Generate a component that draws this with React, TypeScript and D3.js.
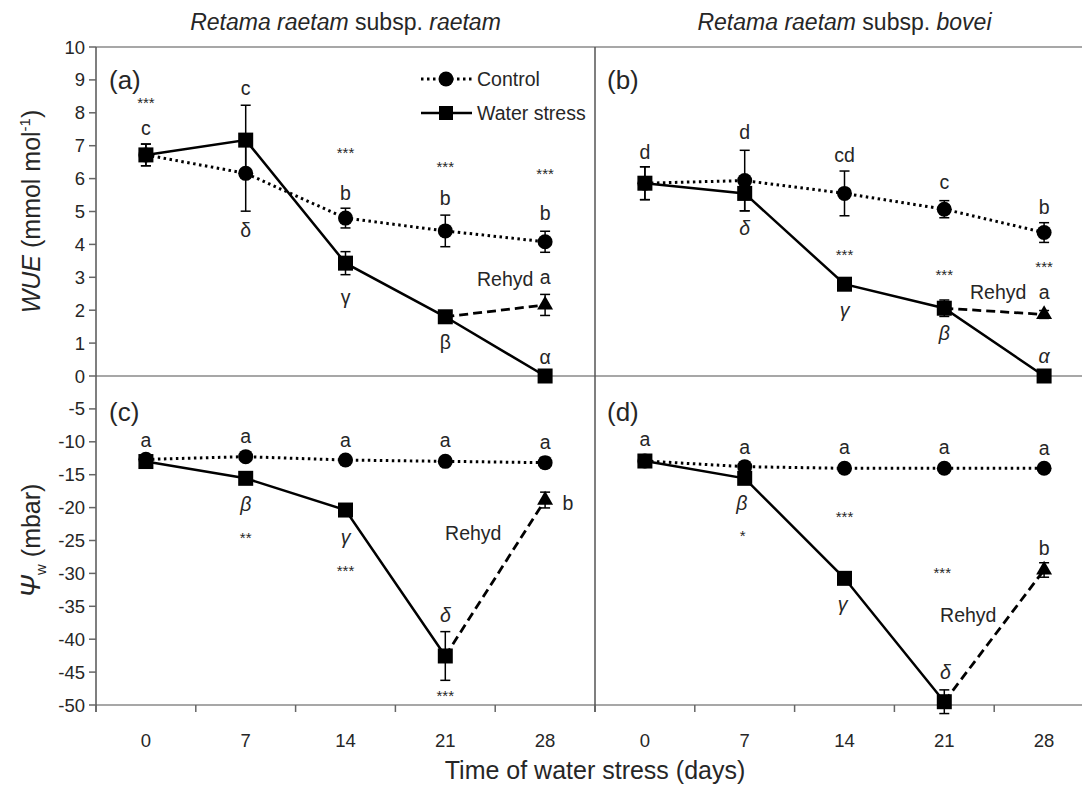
import React from "react";
import * as d3 from "d3";

// ---------- data ----------
const days = ["0", "7", "14", "21", "28"];

// WUE (mmol mol-1), subsp. raetam
const wueRaetamControl = [6.72, 6.16, 4.8, 4.41, 4.08];
const wueRaetamControlErr = [0.33, 1.15, 0.3, 0.48, 0.32];
const wueRaetamStress = [6.72, 7.17, 3.43, 1.8, 0];
const wueRaetamStressErr = [0.33, 1.06, 0.35, 0.1, 0];
const wueRaetamRehyd = [1.8, 2.16]; // day 21 -> day 28
const wueRaetamRehydErr = 0.32;

// WUE, subsp. bovei
const wueBoveiControl = [5.86, 5.94, 5.55, 5.07, 4.36];
const wueBoveiControlErr = [0.5, 0.92, 0.68, 0.26, 0.3];
const wueBoveiStress = [5.86, 5.55, 2.79, 2.06, 0];
const wueBoveiStressErr = [0.5, 0.53, 0.1, 0.25, 0];
const wueBoveiRehyd = [2.06, 1.87];
const wueBoveiRehydErr = 0.12;

// Psi_w (mbar), subsp. raetam
const psiRaetamControl = [-12.67, -12.26, -12.77, -12.97, -13.17];
const psiRaetamControlErr = [0.4, 0.6, 0.4, 0.4, 0.8];
const psiRaetamStress = [-13.0, -15.55, -20.37, -42.55, null];
const psiRaetamStressErr = [0.5, 0.8, 0.6, 3.7, 0];
const psiRaetamRehyd = [-42.55, -18.85];
const psiRaetamRehydErr = 1.2;

// Psi_w (mbar), subsp. bovei
const psiBoveiControl = [-12.92, -13.78, -14.03, -14.03, -14.03];
const psiBoveiControlErr = [0.3, 0.5, 0.3, 0.3, 0.3];
const psiBoveiStress = [-12.92, -15.55, -30.75, -49.5, null];
const psiBoveiStressErr = [0.3, 0.8, 0.4, 1.8, 0];
const psiBoveiRehyd = [-49.5, -29.48];
const psiBoveiRehydErr = 1.1;

const wueTicks = [0, 1, 2, 3, 4, 5, 6, 7, 8, 9, 10];
const psiTicks = [-5, -10, -15, -20, -25, -30, -35, -40, -45, -50];

// annotations: [dayIndex, value, text, kind]  kind: l=letter, s=stars, g=greek, gi=italic greek, r=rehyd
type Ann = [number, number, string, string];
const annA: Ann[] = [
  [0, 8.3, "***", "s"], [0, 7.54, "c", "l"],
  [1, 8.75, "c", "l"], [1, 4.44, "δ", "g"],
  [2, 6.78, "***", "s"], [2, 5.56, "b", "l"], [2, 2.4, "γ", "g"],
  [3, 6.38, "***", "s"], [3, 5.41, "b", "l"], [3, 1.03, "β", "g"],
  [4, 6.17, "***", "s"], [4, 4.95, "b", "l"], [4, 3.01, "a", "l"], [4, 0.58, "α", "g"],
  [3.6, 2.95, "Rehyd", "r"],
];
const annB: Ann[] = [
  [0, 6.82, "d", "l"],
  [1, 7.43, "d", "l"], [1, 4.49, "δ", "gi"],
  [2, 6.72, "cd", "l"], [2, 3.68, "***", "s"], [2, 2.01, "γ", "gi"],
  [3, 5.91, "c", "l"], [3, 3.07, "***", "s"], [3, 1.3, "β", "gi"],
  [4, 5.13, "b", "l"], [4, 3.34, "***", "s"], [4, 2.56, "a", "l"], [4, 0.61, "α", "gi"],
  [3.54, 2.56, "Rehyd", "r"],
];
const annC: Ann[] = [
  [0, -9.73, "a", "l"],
  [1, -9.12, "a", "l"], [1, -19.45, "β", "gi"], [1, -24.5, "**", "s"],
  [2, -9.73, "a", "l"], [2, -24.5, "γ", "gi"], [2, -29.5, "***", "s"],
  [3, -9.73, "a", "l"], [3, -36.3, "δ", "gi"], [3, -48.5, "***", "s"],
  [4, -9.98, "a", "l"], [4.23, -19.3, "b", "l"],
  [3.28, -23.9, "Rehyd", "r"],
];
const annD: Ann[] = [
  [0, -9.6, "a", "l"],
  [1, -10.8, "a", "l"], [0.97, -19.3, "β", "gi"], [0.98, -24.2, "*", "s"],
  [2, -10.8, "a", "l"], [2, -21.4, "***", "s"], [1.98, -34.65, "γ", "gi"],
  [3, -10.8, "a", "l"], [2.98, -29.8, "***", "s"], [3.01, -45.0, "δ", "gi"],
  [4, -10.9, "a", "l"], [4, -26.1, "b", "l"],
  [3.24, -36.3, "Rehyd", "r"],
];

// ---------- layout ----------
const X0 = 96;
const XM = 595;
const X1 = 1094;
const Y_TOP = 47;
const Y_ZERO = 376;
const Y_BOT = 705;
const FONT = "'Liberation Sans', Arial, sans-serif";
const TXT = "#262626";

const yTop = d3.scaleLinear().domain([0, 10]).range([Y_ZERO, Y_TOP]);
const yBot = d3.scaleLinear().domain([-50, 0]).range([Y_BOT, Y_ZERO]);
const bandL = d3.scaleBand<string>().domain(days).range([X0, XM]).padding(0);
const bandR = d3.scaleBand<string>().domain(days).range([XM, X1]).padding(0);

function centerScale(band: d3.ScaleBand<string>) {
  const bw = band.bandwidth();
  return d3
    .scaleLinear()
    .domain([0, days.length - 1])
    .range([band(days[0])! + bw / 2, band(days[days.length - 1])! + bw / 2]);
}

const Square = ({ x, y, s = 15 }: { x: number; y: number; s?: number }) => (
  <rect x={x - s / 2} y={y - s / 2} width={s} height={s} fill="#000" />
);
const Dot = ({ x, y }: { x: number; y: number }) => <circle cx={x} cy={y} r={7.5} fill="#000" />;
const Tri = ({ x, y }: { x: number; y: number }) => {
  const sym = d3.symbol().type(d3.symbolTriangle).size(110)();
  return <path d={sym || ""} transform={`translate(${x},${y})`} fill="#000" />;
};

const ErrBar = ({ x, y, lo, hi }: { x: number; y: (v: number) => number; lo: number; hi: number }) => (
  <g stroke="#000" strokeWidth={1.5}>
    <line x1={x} x2={x} y1={y(lo)} y2={y(hi)} />
    <line x1={x - 5} x2={x + 5} y1={y(lo)} y2={y(lo)} />
    <line x1={x - 5} x2={x + 5} y1={y(hi)} y2={y(hi)} />
  </g>
);

interface PanelProps {
  band: d3.ScaleBand<string>;
  y: d3.ScaleLinear<number, number>;
  control: number[];
  controlErr: number[];
  stress: (number | null)[];
  stressErr: number[];
  rehyd: number[];
  rehydErr: number;
  ann: Ann[];
}

function Panel({ band, y, control, controlErr, stress, stressErr, rehyd, rehydErr, ann }: PanelProps) {
  const cx = centerScale(band);
  const line = d3
    .line<[number, number]>()
    .x((d) => cx(d[0]))
    .y((d) => y(d[1]));
  const ctrlPts: [number, number][] = control.map((v, i) => [i, v]);
  const stressPts: [number, number][] = stress
    .map((v, i) => [i, v] as [number, number | null])
    .filter((d) => d[1] !== null) as [number, number][];
  const rehydPts: [number, number][] = [
    [3, rehyd[0]],
    [4, rehyd[1]],
  ];
  return (
    <g>
      <path d={line(ctrlPts) || ""} fill="none" stroke="#000" strokeWidth={3} strokeDasharray="2.5,3.5" />
      <path d={line(stressPts) || ""} fill="none" stroke="#000" strokeWidth={2.5} />
      <path d={line(rehydPts) || ""} fill="none" stroke="#000" strokeWidth={2.8} strokeDasharray="9,5" />
      {control.map((v, i) =>
        controlErr[i] > 0 ? <ErrBar key={"ce" + i} x={cx(i)} y={y} lo={v - controlErr[i]} hi={v + controlErr[i]} /> : null
      )}
      {stressPts.map(([i, v]) =>
        stressErr[i] > 0 ? <ErrBar key={"se" + i} x={cx(i)} y={y} lo={v - stressErr[i]} hi={v + stressErr[i]} /> : null
      )}
      <ErrBar x={cx(4)} y={y} lo={rehyd[1] - rehydErr} hi={rehyd[1] + rehydErr} />
      {ctrlPts.map(([i, v]) => (
        <Dot key={"c" + i} x={cx(i)} y={y(v)} />
      ))}
      {stressPts.map(([i, v]) => (
        <Square key={"s" + i} x={cx(i)} y={y(v)} />
      ))}
      <Tri x={cx(4)} y={y(rehyd[1])} />
      {ann.map(([i, v, t, k], j) => {
        const size = k === "s" ? 15 : 19.5;
        const italic = k === "gi";
        return (
          <text
            key={"a" + j}
            x={cx(i)}
            y={y(v)}
            textAnchor="middle"
            dominantBaseline="central"
            fontSize={size}
            fontStyle={italic ? "italic" : "normal"}
            fill={TXT}
          >
            {t}
          </text>
        );
      })}
    </g>
  );
}

export default function App() {
  const bw = bandL.bandwidth();
  const xTicksL = days.map((d) => bandL(d)!).concat([XM]);
  const xTicksR = days.map((d) => bandR(d)!).concat([X1]);
  return (
    <svg
      width={1082}
      height={786}
      style={{ position: "absolute", left: 0, top: 0, background: "#fff" }}
      fontFamily={FONT}
    >
      <rect x={0} y={0} width={1082} height={786} fill="#fff" />
      {/* frame */}
      <g stroke="#8a8a8a" strokeWidth={1.5}>
        <line x1={X0} x2={1082} y1={Y_TOP} y2={Y_TOP} />
        <line x1={X0} x2={1082} y1={Y_ZERO} y2={Y_ZERO} />
        <line x1={X0} x2={1082} y1={Y_BOT} y2={Y_BOT} />
      </g>
      <g stroke="#555" strokeWidth={1.5}>
        <line x1={X0} x2={X0} y1={Y_TOP} y2={Y_BOT + 7} />
        <line x1={XM} x2={XM} y1={Y_TOP} y2={Y_BOT + 7} />
      </g>
      {/* ticks */}
      <g stroke="#666" strokeWidth={1.5}>
        {wueTicks.map((t) => (
          <line key={"yt" + t} x1={X0 - 7} x2={X0} y1={yTop(t)} y2={yTop(t)} />
        ))}
        {psiTicks.map((t) => (
          <line key={"yb" + t} x1={X0 - 7} x2={X0} y1={yBot(t)} y2={yBot(t)} />
        ))}
        {xTicksL.concat(xTicksR).map((x, i) => (
          <line key={"xt" + i} x1={x} x2={x} y1={Y_BOT} y2={Y_BOT + 7} />
        ))}
      </g>
      <g fontSize={18.5} fill={TXT} textAnchor="end">
        {wueTicks.map((t) => (
          <text key={"ytl" + t} x={X0 - 11} y={yTop(t)} dominantBaseline="central">
            {t}
          </text>
        ))}
        {psiTicks.map((t) => (
          <text key={"ybl" + t} x={X0 - 11} y={yBot(t)} dominantBaseline="central">
            {t}
          </text>
        ))}
      </g>
      <g fontSize={18.5} fill={TXT} textAnchor="middle">
        {days.map((d) => (
          <text key={"xl" + d} x={bandL(d)! + bw / 2} y={Y_BOT + 42}>
            {d}
          </text>
        ))}
        {days.map((d) => (
          <text key={"xr" + d} x={bandR(d)! + bw / 2} y={Y_BOT + 42}>
            {d}
          </text>
        ))}
      </g>
      {/* titles */}
      <text x={(X0 + XM) / 2} y={30} textAnchor="middle" fontSize={23} fill={TXT}>
        <tspan fontStyle="italic">Retama raetam</tspan> subsp. <tspan fontStyle="italic">raetam</tspan>
      </text>
      <text x={(XM + X1) / 2} y={30} textAnchor="middle" fontSize={23} fill={TXT}>
        <tspan fontStyle="italic">Retama raetam</tspan> subsp. <tspan fontStyle="italic">bovei</tspan>
      </text>
      <text x={595} y={779} textAnchor="middle" fontSize={25} fill={TXT}>
        Time of water stress (days)
      </text>
      <text transform={`translate(40,${(Y_TOP + Y_ZERO) / 2}) rotate(-90)`} textAnchor="middle" fontSize={25} fill={TXT}>
        <tspan fontStyle="italic">WUE</tspan> (mmol mol
        <tspan fontSize={15} dy={-10}>-1</tspan>
        <tspan dy={10}>)</tspan>
      </text>
      <text transform={`translate(40,${(Y_ZERO + Y_BOT) / 2}) rotate(-90)`} textAnchor="middle" fontSize={25} fill={TXT}>
        <tspan fontStyle="italic" fontSize={27}>Ψ</tspan>
        <tspan fontSize={15} dy={6}>w</tspan>
        <tspan dy={-6}> (mbar)</tspan>
      </text>
      {/* panel letters */}
      <g fontSize={26} fill={TXT}>
        <text x={109} y={89}>(a)</text>
        <text x={607} y={89}>(b)</text>
        <text x={109} y={421}>(c)</text>
        <text x={607} y={421}>(d)</text>
      </g>
      {/* legend */}
      <g>
        <line x1={421} x2={472} y1={79} y2={79} stroke="#000" strokeWidth={3} strokeDasharray="2.5,3.5" />
        <Dot x={446} y={79} />
        <text x={477} y={79} dominantBaseline="central" fontSize={19.5} fill={TXT}>
          Control
        </text>
        <line x1={421} x2={472} y1={113} y2={113} stroke="#000" strokeWidth={2.5} />
        <Square x={446} y={113} s={14} />
        <text x={477} y={113} dominantBaseline="central" fontSize={19.5} fill={TXT}>
          Water stress
        </text>
      </g>
      <Panel
        band={bandL}
        y={yTop}
        control={wueRaetamControl}
        controlErr={wueRaetamControlErr}
        stress={wueRaetamStress}
        stressErr={wueRaetamStressErr}
        rehyd={wueRaetamRehyd}
        rehydErr={wueRaetamRehydErr}
        ann={annA}
      />
      <Panel
        band={bandR}
        y={yTop}
        control={wueBoveiControl}
        controlErr={wueBoveiControlErr}
        stress={wueBoveiStress}
        stressErr={wueBoveiStressErr}
        rehyd={wueBoveiRehyd}
        rehydErr={wueBoveiRehydErr}
        ann={annB}
      />
      <Panel
        band={bandL}
        y={yBot}
        control={psiRaetamControl}
        controlErr={psiRaetamControlErr}
        stress={psiRaetamStress}
        stressErr={psiRaetamStressErr}
        rehyd={psiRaetamRehyd}
        rehydErr={psiRaetamRehydErr}
        ann={annC}
      />
      <Panel
        band={bandR}
        y={yBot}
        control={psiBoveiControl}
        controlErr={psiBoveiControlErr}
        stress={psiBoveiStress}
        stressErr={psiBoveiStressErr}
        rehyd={psiBoveiRehyd}
        rehydErr={psiBoveiRehydErr}
        ann={annD}
      />
    </svg>
  );
}
